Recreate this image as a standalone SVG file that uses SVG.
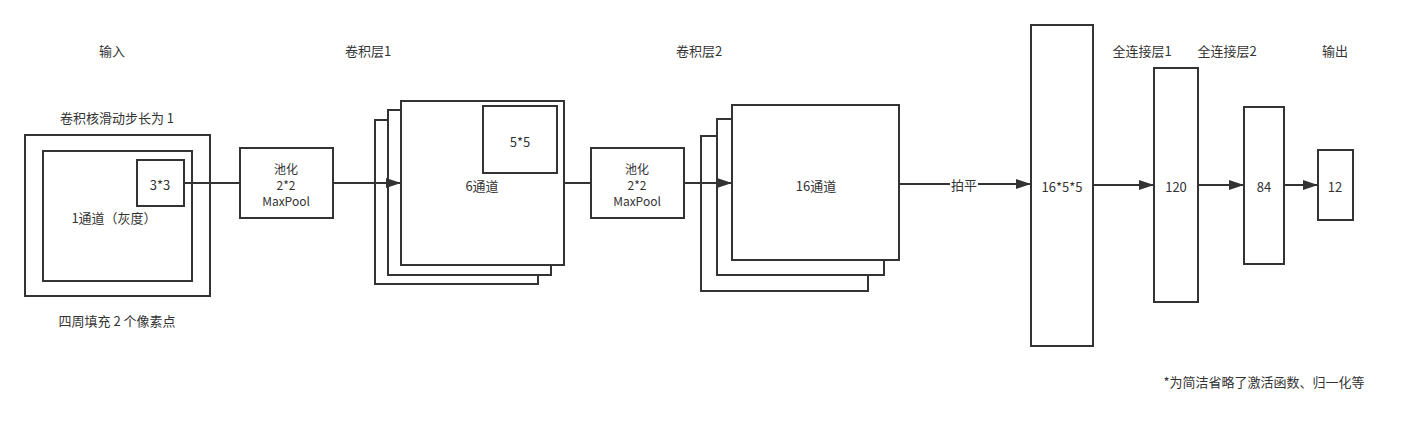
<svg xmlns="http://www.w3.org/2000/svg" width="1420" height="426" viewBox="0 0 1420 426">
<style>
.b{fill:#fff;stroke:#333;stroke-width:2}
.l{fill:none;stroke:#333;stroke-width:2}
text{font-family:"Noto Sans CJK SC","Liberation Sans",sans-serif;font-size:13px;fill:#333;text-anchor:middle;dominant-baseline:central}
text.s{font-size:12px}
</style>
<defs>
<marker id="arr" markerUnits="userSpaceOnUse" markerWidth="16" markerHeight="12" refX="15" refY="6" orient="auto">
<path d="M0,1 L15,6 L0,11 z" fill="#333"/>
</marker>
</defs>
<rect width="1420" height="426" fill="#fff"/>
<g id="labels">
<text x="112" y="50">输入</text>
<text x="368" y="50">卷积层1</text>
<text x="699" y="50">卷积层2</text>
<text x="1142" y="50">全连接层1</text>
<text x="1227" y="50">全连接层2</text>
<text x="1335" y="50">输出</text>
<text x="117" y="117">卷积核滑动步长为 1</text>
<text x="117" y="320">四周填充 2 个像素点</text>
<text x="1264" y="381">*为简洁省略了激活函数、归一化等</text>
</g>
<g id="input">
<rect class="b" x="25" y="135" width="185" height="161"/>
<rect class="b" x="43" y="151" width="149" height="130"/>
<text x="114" y="217">1通道（灰度）</text>
</g>
<g id="kernel3">
<rect class="b" x="137" y="160" width="47" height="46"/>
<text x="160" y="184">3*3</text>
</g>
<g id="pool1">
<rect class="b" x="240" y="148" width="93" height="70"/>
<text class="s" x="286" y="168">池化</text>
<text class="s" x="286" y="184">2*2</text>
<text class="s" x="286" y="200">MaxPool</text>
</g>
<g id="conv1">
<rect class="b" x="375" y="120" width="163" height="164"/>
<rect class="b" x="388" y="110" width="163" height="165"/>
<rect class="b" x="401" y="101" width="163" height="164"/>
<text x="482" y="185">6通道</text>
</g>
<g id="kernel5">
<rect class="b" x="483" y="106" width="74" height="67"/>
<text x="520" y="141">5*5</text>
</g>
<g id="pool2">
<rect class="b" x="591" y="148" width="93" height="70"/>
<text class="s" x="637" y="168">池化</text>
<text class="s" x="637" y="184">2*2</text>
<text class="s" x="637" y="200">MaxPool</text>
</g>
<g id="conv2">
<rect class="b" x="701" y="136" width="167" height="155"/>
<rect class="b" x="717" y="119" width="167" height="156"/>
<rect class="b" x="732" y="105" width="167" height="155"/>
<text x="816" y="185">16通道</text>
</g>
<g id="flatten">
<rect class="b" x="1031" y="25" width="62" height="321"/>
<text x="1062" y="186">16*5*5</text>
</g>
<g id="fc1">
<rect class="b" x="1154" y="68" width="44" height="234"/>
<text x="1176" y="186">120</text>
</g>
<g id="fc2">
<rect class="b" x="1244" y="107" width="40" height="157"/>
<text x="1264" y="186">84</text>
</g>
<g id="out">
<rect class="b" x="1318" y="150" width="35" height="70"/>
<text x="1335" y="186">12</text>
</g>
<g id="connectors">
<path class="l" d="M184,183 H240"/>
<path class="l" d="M333,183 H401" marker-end="url(#arr)"/>
<path class="l" d="M564,183 H591"/>
<path class="l" d="M684,183 H732" marker-end="url(#arr)"/>
<path class="l" d="M899,184 H1031" marker-end="url(#arr)"/>
<rect x="950" y="176" width="28" height="16" fill="#fff"/>
<text x="964" y="184">拍平</text>
<path class="l" d="M1093,185 H1154" marker-end="url(#arr)"/>
<path class="l" d="M1198,185 H1244" marker-end="url(#arr)"/>
<path class="l" d="M1284,185 H1318" marker-end="url(#arr)"/>
</g>
</svg>
